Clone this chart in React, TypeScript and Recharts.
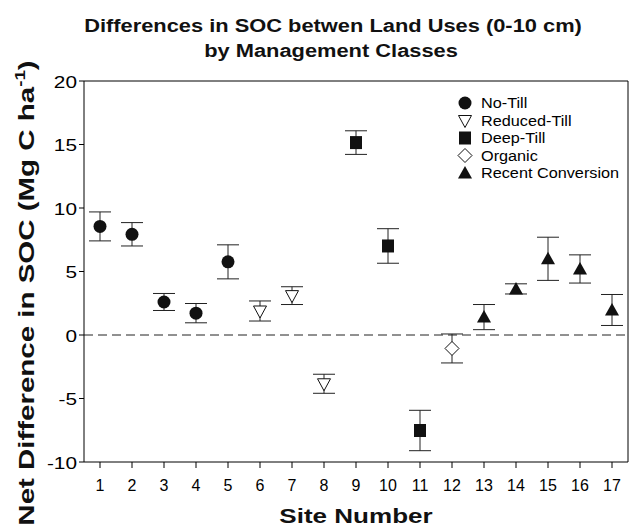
import React from 'react';
import { ScatterChart, Scatter, XAxis, YAxis, ErrorBar, ReferenceLine, Legend } from 'recharts';

// values (site means and error bars, Mg C/ha)
const sites = [1, 2, 3, 4, 5, 6, 7, 8, 9, 10, 11, 12, 13, 14, 15, 16, 17];
const meanDiff = [8.55, 7.93, 2.6, 1.72, 5.76, 1.89, 3.1, -3.84, 15.15, 7.01, -7.52, -1.06, 1.41, 3.63, 6.0, 5.2, 1.97];
const stdErr = [1.14, 0.92, 0.67, 0.76, 1.34, 0.79, 0.7, 0.75, 0.93, 1.36, 1.59, 1.14, 0.99, 0.4, 1.7, 1.11, 1.22];
const siteClass = [
  'No-Till', 'No-Till', 'No-Till', 'No-Till', 'No-Till',
  'Reduced-Till', 'Reduced-Till', 'Reduced-Till',
  'Deep-Till', 'Deep-Till', 'Deep-Till',
  'Organic',
  'Recent Conversion', 'Recent Conversion', 'Recent Conversion', 'Recent Conversion', 'Recent Conversion',
];
const classNames = ['No-Till', 'Reduced-Till', 'Deep-Till', 'Organic', 'Recent Conversion'];
const yTicks = [-10, -5, 0, 5, 10, 15, 20];

const FONT = '"Liberation Sans", Arial, sans-serif';
const INK = '#111';

// one marker per management class
const Marker = ({ kind, cx, cy }: { kind: string; cx: number; cy: number }) => {
  switch (kind) {
    case 'No-Till':
      return <circle cx={cx} cy={cy} r={6.5} fill={INK} />;
    case 'Reduced-Till':
      return (
        <polygon
          points={`${cx - 6.5},${cy - 5} ${cx + 6.5},${cy - 5} ${cx},${cy + 7}`}
          fill="#fff"
          stroke={INK}
          strokeWidth={1}
        />
      );
    case 'Deep-Till':
      return <rect x={cx - 6} y={cy - 6.5} width={12} height={13} fill={INK} />;
    case 'Organic':
      return (
        <polygon
          points={`${cx},${cy - 7} ${cx + 7},${cy} ${cx},${cy + 7} ${cx - 7},${cy}`}
          fill="#fff"
          stroke={INK}
          strokeWidth={1}
        />
      );
    default:
      return (
        <polygon
          points={`${cx - 7},${cy + 5.5} ${cx + 7},${cy + 5.5} ${cx},${cy - 7}`}
          fill={INK}
        />
      );
  }
};

const YTick = (props: any) => {
  const { y, payload } = props;
  return (
    <text
      transform={`translate(77,${y + 6.5}) scale(1.3,1)`}
      textAnchor="end"
      fontSize={16}
      fontFamily={FONT}
      fill="#000"
    >
      {payload.value}
    </text>
  );
};

const XTick = (props: any) => {
  const { x, payload } = props;
  return (
    <text x={x} y={491} textAnchor="middle" fontSize={16} fontFamily={FONT} fill="#000">
      {payload.value}
    </text>
  );
};

const LegendBox = (props: any) => {
  const items = [...(props.payload ?? [])].sort(
    (a: any, b: any) => classNames.indexOf(a.value) - classNames.indexOf(b.value),
  );
  return (
    <svg width={175} height={95} style={{ display: 'block', overflow: 'visible' }}>
      {items.map((item: any, i: number) => {
        const cy = 11 + i * 17.5;
        return (
          <g key={item.value}>
            <Marker kind={item.value} cx={11} cy={cy} />
            <text
              transform={`translate(27,${cy + 5}) scale(1.16,1)`}
              fontSize={14}
              fontFamily={FONT}
              fill="#000"
            >
              {item.value}
            </text>
          </g>
        );
      })}
    </svg>
  );
};

const App = () => {
  const series = classNames.map((name) => ({
    name,
    data: sites
      .map((s, i) => ({ x: s, y: meanDiff[i], err: stdErr[i], cls: siteClass[i] }))
      .filter((d) => d.cls === name),
  }));

  return (
    <div style={{ position: 'absolute', left: 0, top: 0, width: 630, height: 526, background: '#fff' }}>
      <ScatterChart width={630} height={526} margin={{ top: 81, right: 2, bottom: 0, left: 0 }}>
        <text
          transform="translate(333,32) scale(1.15,1)"
          textAnchor="middle"
          fontSize={19}
          fontWeight="bold"
          fontFamily={FONT}
          fill="#111"
        >
          Differences in SOC betwen Land Uses (0-10 cm)
        </text>
        <text
          transform="translate(331,57) scale(1.15,1)"
          textAnchor="middle"
          fontSize={19}
          fontWeight="bold"
          fontFamily={FONT}
          fill="#111"
        >
          by Management Classes
        </text>
        <text
          transform="translate(34,293) rotate(-90) scale(1.34,1)"
          textAnchor="middle"
          fontSize={22}
          fontWeight="bold"
          fontFamily={FONT}
          fill="#111"
        >
          Net Difference in SOC (Mg C ha
          <tspan fontSize={14} dy={-9}>-1</tspan>
          <tspan dy={9}>)</tspan>
        </text>
        <text
          transform="translate(356,523) scale(1.24,1)"
          textAnchor="middle"
          fontSize={21}
          fontWeight="bold"
          fontFamily={FONT}
          fill="#111"
        >
          Site Number
        </text>
        <XAxis
          type="number"
          dataKey="x"
          domain={[0.5, 17.5]}
          ticks={sites}
          interval={0}
          height={64}
          tickSize={6}
          axisLine={{ stroke: '#000' }}
          tickLine={{ stroke: '#000' }}
          tick={<XTick />}
        />
        <YAxis
          type="number"
          dataKey="y"
          domain={[-10, 20]}
          ticks={yTicks}
          interval={0}
          width={84}
          tickSize={5}
          axisLine={{ stroke: '#000' }}
          tickLine={{ stroke: '#000' }}
          tick={<YTick />}
        />
        <ReferenceLine y={20} stroke="#000" />
        <ReferenceLine x={17.5} stroke="#000" />
        <ReferenceLine y={0} stroke="#222" strokeDasharray="9 5" />
        {series.map((s) => (
          <Scatter
            key={s.name}
            name={s.name}
            data={s.data}
            isAnimationActive={false}
            fill={INK}
            shape={(p: any) => <Marker kind={s.name} cx={p.cx} cy={p.cy} />}
          >
            <ErrorBar dataKey="err" direction="y" width={11} stroke="#222" strokeWidth={1} />
          </Scatter>
        ))}
        <Legend
          content={<LegendBox />}
          wrapperStyle={{ position: 'absolute', left: 454, top: 92, width: 0, height: 0, overflow: 'visible' }}
        />
      </ScatterChart>
    </div>
  );
};

export default App;
